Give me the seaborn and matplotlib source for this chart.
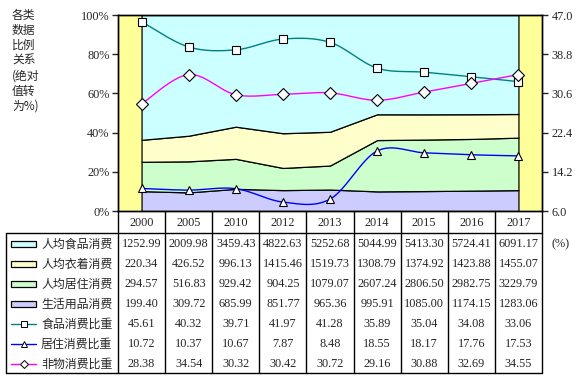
import numpy as np
import pandas as pd
import matplotlib
matplotlib.use("Agg")
import matplotlib.pyplot as plt
from matplotlib.patches import Rectangle
import seaborn as sns

# Daten
years = ["2000", "2005", "2010", "2012", "2013", "2014", "2015", "2016", "2017"]
food = [1252.99, 2009.98, 3459.43, 4822.63, 5252.68, 5044.99, 5413.30, 5724.41, 6091.17]
cloth = [220.34, 426.52, 996.13, 1415.46, 1519.73, 1308.79, 1374.92, 1423.88, 1455.07]
house = [294.57, 516.83, 929.42, 904.25, 1079.07, 2607.24, 2806.50, 2982.75, 3229.79]
daily = [199.40, 309.72, 685.99, 851.77, 965.36, 995.91, 1085.00, 1174.15, 1283.06]
food_ratio = [45.61, 40.32, 39.71, 41.97, 41.28, 35.89, 35.04, 34.08, 33.06]
house_ratio = [10.72, 10.37, 10.67, 7.87, 8.48, 18.55, 18.17, 17.76, 17.53]
nonmat_ratio = [28.38, 34.54, 30.32, 30.42, 30.72, 29.16, 30.88, 32.69, 34.55]

area_names = ["人均食品消费", "人均衣着消费", "人均居住消费", "生活用品消费"]
line_names = ["食品消费比重", "居住消费比重", "非物消费比重"]
right_ticks = [6.0, 14.2, 22.4, 30.6, 38.8, 47.0]

c_food, c_cloth, c_house, c_daily = "#CCFFFF", "#FFFFCC", "#CCFFCC", "#CCCCFF"
c_bg = "#FFFF99"
line_cols = ["#008080", "#0000FF", "#FF00FF"]
line_marks = ["s", "^", "D"]
mark_sizes = [5.2, 5.8, 6.2]

sns.set_style("white")
plt.rcParams["font.family"] = ["Liberation Serif", "Noto Sans CJK SC"]
cjk = ["Noto Sans CJK SC", "DejaVu Sans"]


def smooth(y, n=25):
    # Bezier-Glättung wie bei Excel-Linien
    y = np.asarray(y, float)
    x = np.arange(len(y), dtype=float)
    t = np.linspace(0, 1, n)
    px, py = [], []
    for i in range(len(y) - 1):
        im = max(i - 1, 0)
        ip = min(i + 2, len(y) - 1)
        c1x = x[i] + (x[i + 1] - x[im]) / 6
        c1y = y[i] + (y[i + 1] - y[im]) / 6
        c2x = x[i + 1] - (x[ip] - x[i]) / 6
        c2y = y[i + 1] - (y[ip] - y[i]) / 6
        a, b, c, d = (1 - t) ** 3, 3 * (1 - t) ** 2 * t, 3 * (1 - t) * t ** 2, t ** 3
        px.extend(a * x[i] + b * c1x + c * c2x + d * x[i + 1])
        py.extend(a * y[i] + b * c1y + c * c2y + d * y[i + 1])
    return np.array(px), np.array(py)


W, H = 581, 379
fig = plt.figure(figsize=(W / 100, H / 100), dpi=100)

x0, x1, ytop, ybot = 118, 542, 15, 211
ax = fig.add_axes([x0 / W, 1 - ybot / H, (x1 - x0) / W, (ybot - ytop) / H])
ax.set_facecolor(c_bg)

xs = np.arange(len(years))
total = np.array(food) + np.array(cloth) + np.array(house) + np.array(daily)
shares = [np.array(v) / total for v in (daily, house, cloth, food)]
ax.stackplot(xs, *shares, colors=[c_daily, c_house, c_cloth, c_food],
             edgecolor="black", linewidth=0.9)
ax.set_xlim(-0.5, len(years) - 0.5)
ax.set_ylim(0, 1)
ax.set_xticks([])
ax.set_yticks([0, 0.2, 0.4, 0.6, 0.8, 1.0])
ax.set_yticklabels(["0%", "20%", "40%", "60%", "80%", "100%"])
ax.tick_params(axis="y", direction="out", length=4, width=1, left=True, labelsize=8.8, pad=2)
for s in ax.spines.values():
    s.set_color("black")
    s.set_linewidth(1)

ax2 = ax.twinx()
for vals, col, mk, ms in zip([food_ratio, house_ratio, nonmat_ratio], line_cols, line_marks, mark_sizes):
    sx, sy = smooth(vals)
    sns.lineplot(x=sx, y=sy, ax=ax2, color=col, linewidth=1, sort=False, estimator=None)
    ax2.plot(xs, vals, linestyle="none", marker=mk, markersize=ms,
             markerfacecolor="white", markeredgecolor="black", markeredgewidth=0.8, zorder=5)
ax2.set_ylim(6, 47)
ax2.set_yticks(right_ticks)
ax2.set_yticklabels([f"{v:.1f}" for v in right_ticks])
ax2.tick_params(axis="y", direction="out", length=4, width=1, right=True, labelsize=8.8, pad=3)
ax2.set_xlim(-0.5, len(years) - 0.5)
for s in ax2.spines.values():
    s.set_color("black")
    s.set_linewidth(1)

# linke Beschriftung
title_lines = ["各类", "数据", "比例", "关系", "(绝对", "值转", "为%)"]
for i, t in enumerate(title_lines):
    fig.text(12 / W, 1 - (15 + 15.2 * i) / H, t, fontsize=8.5, family=cjk,
             ha="left", va="center")

# Datentabelle
tab = fig.add_axes([0, 0, 1, 1])
tab.set_xlim(0, W)
tab.set_ylim(H, 0)
tab.axis("off")
tab.patch.set_visible(False)

col_w = (x1 - x0) / len(years)
col_x = x0 + np.arange(len(years) + 1) * col_w
row_top, row_h = 233, 20
n_rows = 7
row_bot = row_top + n_rows * row_h
lw = 1
for cx in col_x:
    tab.plot([cx, cx], [ybot, row_bot], color="black", lw=lw)
tab.plot([6, x1], [row_top, row_top], color="black", lw=lw)
tab.plot([6, x1], [row_bot, row_bot], color="black", lw=lw)
tab.plot([6, 6], [row_top, row_bot], color="black", lw=lw)

for j, yr in enumerate(years):
    tab.text(col_x[j] + col_w / 2, (ybot + row_top) / 2 + 1, yr, fontsize=8.8,
             ha="center", va="center")

rows = [food, cloth, house, daily, food_ratio, house_ratio, nonmat_ratio]
names = area_names + line_names
for i, (name, vals) in enumerate(zip(names, rows)):
    cy = row_top + row_h * i + row_h / 2 + 1
    if i < 4:
        col = [c_food, c_cloth, c_house, c_daily][i]
        tab.add_patch(Rectangle((11, cy - 3), 25, 6, facecolor=col, edgecolor="black", lw=0.9))
    else:
        k = i - 4
        tab.plot([11, 36], [cy, cy], color=line_cols[k], lw=1)
        tab.plot([23.5], [cy], marker=line_marks[k], markersize=4.5, markerfacecolor="white",
                 markeredgecolor="black", markeredgewidth=0.7, linestyle="none")
    tab.text(41, cy, name, fontsize=8.6, family=cjk, ha="left", va="center")
    for j, v in enumerate(vals):
        tab.text(col_x[j] + col_w / 2, cy, f"{v:.2f}", fontsize=8.8, ha="center", va="center")

tab.text(551, 244, "(%)", fontsize=8.8, ha="left", va="center")

fig.savefig("out.png", dpi=100)
